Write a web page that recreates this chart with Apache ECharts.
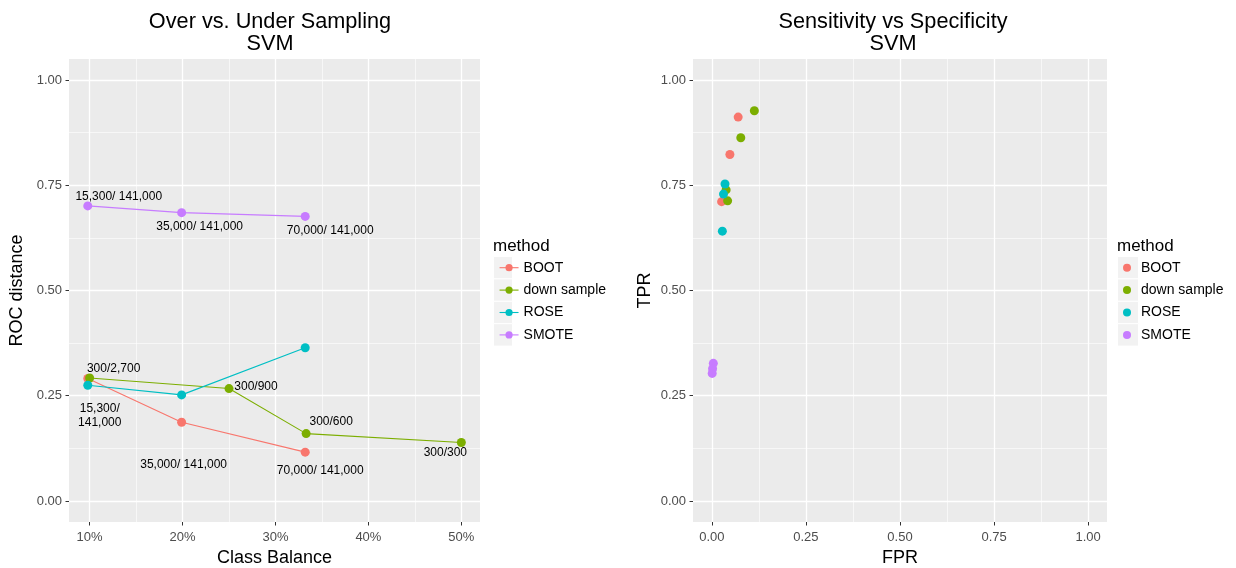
<!DOCTYPE html>
<html>
<head>
<meta charset="utf-8">
<script src="https://cdn.jsdelivr.net/npm/echarts@6/dist/echarts.min.js"></script>
<style>
  html, body { margin: 0; padding: 0; background: #ffffff; }
  #chart { width: 1236px; height: 568px; }
</style>
</head>
<body>
<div id="chart"></div>
<script>
// ---- data ----
const methods = ['BOOT', 'down sample', 'ROSE', 'SMOTE'];

// Left panel: class balance vs ROC distance
const bootBalance  = [0.098, 0.199, 0.332];
const bootRocDist  = [0.291, 0.187, 0.116];
const bootLabels   = ['', '35,000/ 141,000', '70,000/ 141,000'];

const downBalance  = [0.10, 0.25, 0.333, 0.50];
const downRocDist  = [0.292, 0.267, 0.160, 0.139];
const downLabels   = ['300/2,700', '300/900', '300/600', '300/300'];

const roseBalance  = [0.098, 0.199, 0.332];
const roseRocDist  = [0.275, 0.252, 0.364];
const roseLabels   = ['15,300/\n141,000', '', ''];

const smoteBalance = [0.098, 0.199, 0.332];
const smoteRocDist = [0.701, 0.685, 0.676];
const smoteLabels  = ['15,300/ 141,000', '35,000/ 141,000', '70,000/ 141,000'];

// Right panel: false positive rate vs true positive rate
const bootFPR  = [0.070, 0.048, 0.026];
const bootTPR  = [0.912, 0.823, 0.711];
const downFPR  = [0.113, 0.077, 0.038, 0.042];
const downTPR  = [0.927, 0.863, 0.739, 0.713];
const roseFPR  = [0.035, 0.031, 0.028];
const roseTPR  = [0.753, 0.729, 0.641];
const smoteFPR = [0.004, 0.002, 0.001];
const smoteTPR = [0.327, 0.314, 0.303];

// Axis breaks
const balanceTicks      = [0.1, 0.2, 0.3, 0.4, 0.5];
const balanceMinorTicks = [0.15, 0.25, 0.35, 0.45];
const unitTicks         = [0, 0.25, 0.5, 0.75, 1];
const unitMinorTicks    = [0.125, 0.375, 0.625, 0.875];

// ---- styling / layout ----
const colors = ['#F8766D', '#7CAE00', '#00BFC4', '#C77CFF'];
// label nudges (pixels) for the text annotations next to each point
const bootNudge  = [null, [2, 42], [15, 19]];
const downNudge  = [[24, -9], [27, -2], [25, -12], [-16, 10]];
const roseNudge  = [[12, 30], null, null];
const smoteNudge = [[31, -9], [18, 14], [25, 14]];

const FONT = 'Liberation Sans, Arial, sans-serif';
const panelBg = '#EBEBEB';

function lineData(xs, ys, labels, nudges) {
  return xs.map((x, i) => {
    const item = { value: [x, ys[i]] };
    if (labels[i]) {
      item.label = {
        show: true,
        formatter: labels[i],
        offset: nudges[i] || [0, 0]
      };
    }
    return item;
  });
}
function pts(xs, ys) { return xs.map((x, i) => [x, ys[i]]); }

const leftSets = [
  lineData(bootBalance, bootRocDist, bootLabels, bootNudge),
  lineData(downBalance, downRocDist, downLabels, downNudge),
  lineData(roseBalance, roseRocDist, roseLabels, roseNudge),
  lineData(smoteBalance, smoteRocDist, smoteLabels, smoteNudge)
];
const rightSets = [
  pts(bootFPR, bootTPR),
  pts(downFPR, downTPR),
  pts(roseFPR, roseTPR),
  pts(smoteFPR, smoteTPR)
];

const gridBase = { top: 59, height: 463, show: true, backgroundColor: panelBg, borderWidth: 0, containLabel: false, outerBoundsMode: 'none' };
const grids = [
  Object.assign({ left: 69, width: 411 }, gridBase),
  Object.assign({ left: 693, width: 414 }, gridBase)
];

function majorAxis(opts) {
  return Object.assign({
    type: 'value',
    axisLine: { show: false, onZero: false },
    axisTick: { show: true, length: 3.5, lineStyle: { color: '#333333', width: 1 }, customValues: opts.ticks },
    axisLabel: { show: true, color: '#4D4D4D', fontSize: 13, fontFamily: FONT, customValues: opts.ticks, formatter: opts.fmt, margin: opts.margin },
    splitLine: { show: true, lineStyle: { color: '#FFFFFF', width: 1.3 } },
    nameTextStyle: { color: '#000000', fontSize: 18, fontFamily: FONT },
    z: 2
  }, opts.extra);
}
function minorAxis(opts) {
  return Object.assign({
    type: 'value',
    axisLine: { show: false, onZero: false },
    axisTick: { show: false, customValues: opts.ticks },
    axisLabel: { show: false, customValues: opts.ticks },
    splitLine: { show: true, lineStyle: { color: '#FFFFFF', width: 0.6 } },
    z: 1
  }, opts.extra);
}

const pctFmt = v => Math.round(v * 100) + '%';
const fix2 = v => v.toFixed(2);

const xAxes = [
  majorAxis({ ticks: balanceTicks, fmt: pctFmt, margin: 9,
    extra: { gridIndex: 0, position: 'bottom', min: 0.0778, max: 0.5201, name: 'Class Balance', nameLocation: 'middle', nameGap: 26 } }),
  minorAxis({ ticks: balanceMinorTicks, extra: { gridIndex: 0, position: 'bottom', min: 0.0778, max: 0.5201 } }),
  majorAxis({ ticks: unitTicks, fmt: fix2, margin: 9,
    extra: { gridIndex: 1, position: 'bottom', min: -0.05, max: 1.05, name: 'FPR', nameLocation: 'middle', nameGap: 26 } }),
  minorAxis({ ticks: unitMinorTicks, extra: { gridIndex: 1, position: 'bottom', min: -0.05, max: 1.05 } })
];
const yAxes = [
  majorAxis({ ticks: unitTicks, fmt: fix2, margin: 7,
    extra: { gridIndex: 0, position: 'left', min: -0.05, max: 1.05, name: 'ROC distance', nameLocation: 'middle', nameGap: 43, nameRotate: 90 } }),
  minorAxis({ ticks: unitMinorTicks, extra: { gridIndex: 0, position: 'left', min: -0.05, max: 1.05 } }),
  majorAxis({ ticks: unitTicks, fmt: fix2, margin: 7,
    extra: { gridIndex: 1, position: 'left', min: -0.05, max: 1.05, name: 'TPR', nameLocation: 'middle', nameGap: 39, nameRotate: 90 } }),
  minorAxis({ ticks: unitMinorTicks, extra: { gridIndex: 1, position: 'left', min: -0.05, max: 1.05 } })
];

const series = [];
methods.forEach((m, i) => {
  series.push({
    name: m,
    type: 'line',
    xAxisIndex: 0,
    yAxisIndex: 0,
    data: leftSets[i],
    symbol: 'circle',
    symbolSize: 9,
    showAllSymbol: true,
    color: colors[i],
    lineStyle: { width: 1.1, color: colors[i] },
    itemStyle: { color: colors[i] },
    label: { show: false, position: 'inside', color: '#000000', fontSize: 12, fontFamily: FONT, lineHeight: 14 },
    emphasis: { disabled: true },
    animation: false,
    z: 5
  });
});
methods.forEach((m, i) => {
  series.push({
    name: m,
    type: 'scatter',
    xAxisIndex: 2,
    yAxisIndex: 2,
    data: rightSets[i],
    symbol: 'circle',
    symbolSize: 9,
    itemStyle: { color: colors[i], opacity: 1 },
    emphasis: { disabled: true },
    animation: false,
    z: 5
  });
});

// legend key backgrounds and legend titles
const keyTop = 256, keyStep = 22.4;
const graphics = [];
[[493, 19], [1117, 21]].forEach(([kx, kw]) => {
  for (let i = 0; i < methods.length; i++) {
    graphics.push({
      type: 'rect', left: kx, top: keyTop + i * keyStep, z: 0,
      shape: { width: kw, height: keyStep },
      style: { fill: '#F2F2F2', stroke: '#FFFFFF', lineWidth: 1 }
    });
  }
  graphics.push({
    type: 'text', left: kx, top: 238, z: 10,
    style: { text: 'method', fill: '#000000', font: '17px ' + FONT }
  });
});

const legendBase = {
  orient: 'vertical',
  itemGap: keyStep - 14,
  textStyle: { color: '#000000', fontSize: 14, fontFamily: FONT },
  selectedMode: false,
  top: 255.7,
  z: 20
};

const titleStyle = { color: '#000000', fontSize: 21.7, fontWeight: 'normal', fontFamily: FONT, lineHeight: 22 };

const option = {
  animation: false,
  backgroundColor: '#FFFFFF',
  title: [
    { text: 'Over vs. Under Sampling\nSVM', left: 265, top: 6, textAlign: 'center', textStyle: titleStyle },
    { text: 'Sensitivity vs Specificity\nSVM', left: 888, top: 6, textAlign: 'center', textStyle: titleStyle }
  ],
  grid: grids,
  xAxis: xAxes,
  yAxis: yAxes,
  legend: [
    Object.assign({}, legendBase, {
      left: 494, itemWidth: 19, itemHeight: 9,
      data: methods.map((m, i) => ({ name: m, itemStyle: { color: colors[i] }, lineStyle: { color: colors[i], width: 1.1 } }))
    }),
    Object.assign({}, legendBase, {
      left: 1118, itemWidth: 18, itemHeight: 8,
      data: methods.map((m, i) => ({ name: m, icon: 'circle', itemStyle: { color: colors[i] } }))
    })
  ],
  graphic: graphics,
  series: series
};

const chart = echarts.init(document.getElementById('chart'), null, { renderer: 'canvas' });
chart.setOption(option);
</script>
</body>
</html>
